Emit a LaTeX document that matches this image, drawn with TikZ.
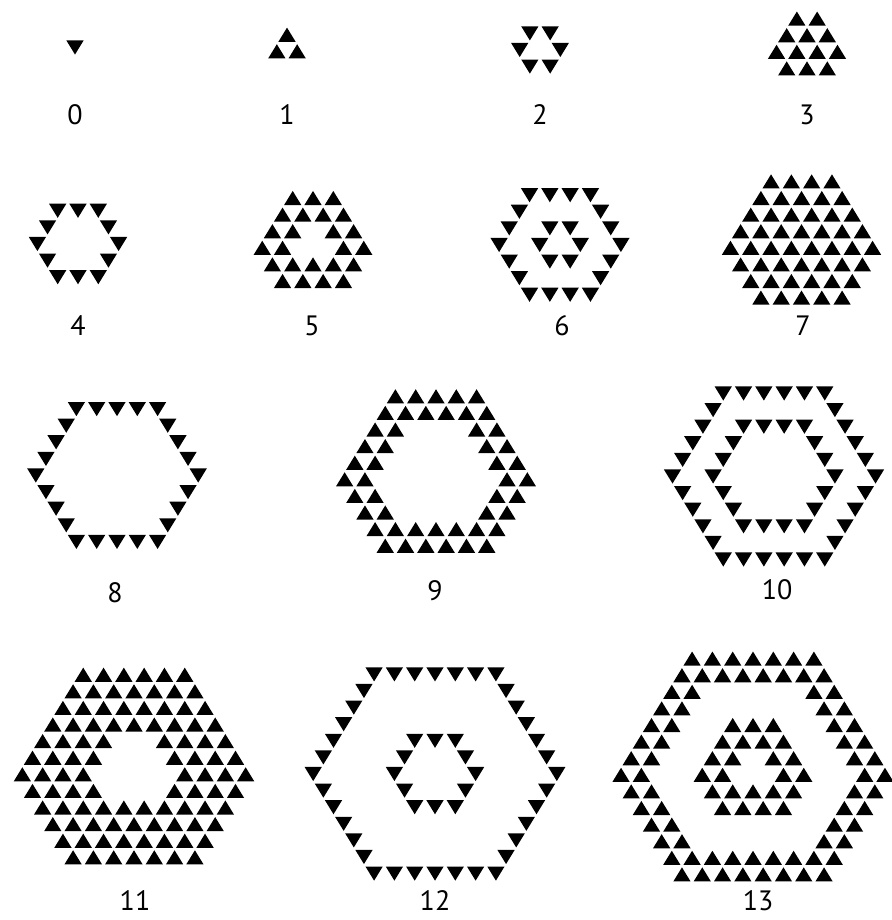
\documentclass[tikz,border=0pt]{standalone}
\usepackage{fontspec}
\setmainfont{PT Sans}
\usetikzlibrary{calc}

% lattice pitch, row height and size of the drawn triangles
\def\trip{20.3}
\def\trih{16.6}
\def\trif{0.85}

\newcount\nbcount
\newcommand{\alivecell}[3]{\expandafter\gdef\csname ca@#1@#2@#3\endcsname{}}

\tikzset{
  uptri/.pic={\fill (0,{-2/3*\trih*\trif}) -- ({\trip/2*\trif},{\trih/3*\trif}) -- ({-\trip/2*\trif},{\trih/3*\trif}) -- cycle;},
  downtri/.pic={\fill (0,{2/3*\trih*\trif}) -- ({\trip/2*\trif},{-\trih/3*\trif}) -- ({-\trip/2*\trif},{-\trih/3*\trif}) -- cycle;},
  genlabel/.style={font=\fontsize{28}{30}\selectfont, inner sep=0pt}
}

\begin{document}
\begin{tikzpicture}[x=1pt, y=-1pt]
    \useasboundingbox (0,0) rectangle (891,920);

    % Generations of the automaton: a cell lives when 1 or 2 neighbours lived
    \alivecell{0}{0}{0}%
    \foreach \g in {1,...,13}{%
      \pgfmathtruncatemacro{\pg}{\g-1}%
      \pgfmathtruncatemacro{\rmin}{-\g-1}%
      \pgfmathtruncatemacro{\rmax}{\g+1}%
      \foreach \col in {\rmin,...,\rmax}{%
        \foreach \row in {\rmin,...,\rmax}{%
          \ifodd\numexpr\col+\row+\g\relax\else
            \ifodd\g\relax\def\dj{1}\else\def\dj{-1}\fi
            \nbcount=0
            \ifcsname ca@\pg @\the\numexpr\col-1\relax @\row\endcsname\advance\nbcount by 1\relax\fi
            \ifcsname ca@\pg @\the\numexpr\col+1\relax @\row\endcsname\advance\nbcount by 1\relax\fi
            \ifcsname ca@\pg @\col @\the\numexpr\row+\dj\relax\endcsname\advance\nbcount by 1\relax\fi
            \ifnum\nbcount>0 \ifnum\nbcount<3 \alivecell{\g}{\col}{\row}\fi\fi
          \fi
        }%
      }%
    }%

    % Draw each generation around its centre, with its number below
    \foreach \g/\gx/\gy/\lx/\ly in {0/75/47.5/75/115, 1/287/43/287/115, 2/540/50/540/115, 3/807/43.5/807/115,
        4/78/244/78/326, 5/313/239.5/312/326, 6/560/245/562/326, 7/801.5/239.5/803/326,
        8/117/475.5/115/593, 9/436/471/435/591, 10/774/476.5/777/590,
        11/134/766/135/901, 12/435/774/435/901, 13/753/766.5/758/901}{%
      \pgfmathtruncatemacro{\rmin}{-\g-1}%
      \pgfmathtruncatemacro{\rmax}{\g+1}%
      \xdef\cmin{99}\xdef\cmax{-99}\xdef\jmin{99}\xdef\jmax{-99}%
      \foreach \col in {\rmin,...,\rmax}{%
        \foreach \row in {\rmin,...,\rmax}{%
          \ifcsname ca@\g @\col @\row\endcsname
            \ifnum\col<\cmin\relax\xdef\cmin{\col}\fi
            \ifnum\col>\cmax\relax\xdef\cmax{\col}\fi
            \ifnum\row<\jmin\relax\xdef\jmin{\row}\fi
            \ifnum\row>\jmax\relax\xdef\jmax{\row}\fi
          \fi
        }%
      }%
      \pgfmathsetmacro{\ox}{\gx-(\cmin+\cmax)/4*\trip}%
      \ifodd\g\relax
        \pgfmathsetmacro{\oy}{\gy-((\jmin+\jmax)/2+2/3-\trif/6)*\trih}%
      \else
        \pgfmathsetmacro{\oy}{\gy-((\jmin+\jmax)/2+1/3+\trif/6)*\trih}%
      \fi
      \foreach \col in {\rmin,...,\rmax}{%
        \foreach \row in {\rmin,...,\rmax}{%
          \ifcsname ca@\g @\col @\row\endcsname
            \ifodd\g\relax
              \pic at ({\ox+\col*\trip/2},{\oy+(\row+2/3)*\trih}) {uptri};
            \else
              \pic at ({\ox+\col*\trip/2},{\oy+(\row+1/3)*\trih}) {downtri};
            \fi
          \fi
        }%
      }%
      \node[genlabel] (lab\g) at (\lx,\ly) {\g};
    }
\end{tikzpicture}
\end{document}
